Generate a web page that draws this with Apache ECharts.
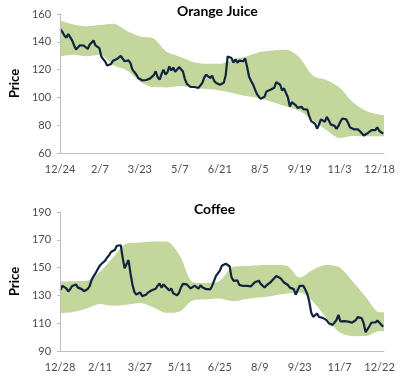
<!DOCTYPE html>
<html><head><meta charset="utf-8">
<script src="https://cdn.jsdelivr.net/npm/echarts@6/dist/echarts.min.js"></script>
<style>html,body{margin:0;padding:0;background:#fff}#c{width:400px;height:378px}</style>
</head><body><div id="c"></div>
<script>
// ---- data ----
const ojXLabels = ['12/24','2/7','3/23','5/7','6/21','8/5','9/19','11/3','12/18'];
const cfXLabels = ['12/28','2/11','3/27','5/11','6/25','8/9','9/23','11/7','12/22'];
const ojYTicks = [60,80,100,120,140,160];
const cfYTicks = [90,110,130,150,170,190];
const tickDays = [0,45,90,135,180,225,270,315,360];

// price samples, one every ~2.19 days starting at day 0.5
const priceStart = 0.5, priceStep = 2.19;
const ojPrice = [149,147,144.5,143,145.5,145,141,137.5,134.5,135,
137.5,138.5,137.3,137.9,134.8,137.9,139.1,141,137.4,137.6,
135.5,129.5,127.4,125.8,123,122.5,124,126.3,127.2,127.6,
128,129.8,130.5,126,125.5,126.6,124.7,120,118.3,116.5,
113.9,113.2,112.3,111.2,112.5,112,113.5,113,116,118.8,
114.5,112.8,116.8,120,116.5,118,122.3,119.4,121.5,118.5,
120,121.8,122.3,118.7,113.2,109.8,108.4,107.5,106.5,107.5,
108.4,106.8,107,110.5,114.5,116.3,115,114,115.6,112,
110.5,109.1,109.1,109.8,110.5,116,129.5,129.1,128.3,125,
127.5,125,126.5,127.6,126,128,122,115,112,109.5,
106,102.5,100.5,99,99.4,100.5,104.3,103.5,105.5,104.5,
107,111,110.5,109.1,105,106.5,106.5,100,93.5,96.5,
95.5,94.5,92.5,92.5,93.3,91.5,90.3,91.2,86.3,82.9,
83.2,81,77.5,80.5,84.2,84,82.5,86,83.5,80.6,
80.4,79.5,77.3,79.5,82.5,84.8,85.8,84.2,81.6,78.3,
77.6,77,76.8,77.1,76.4,74.3,72.6,73.8,74.2,74.6,
76.5,77.5,76.4,78.5,76,76.5,73.9];
const cfPrice = [133.8,136.9,135.6,135,132.8,134.5,136.8,137.6,137.9,135.6,
136,134.5,133,132.6,134.6,136.7,141,143.7,145.8,148.4,
151,152.6,152.5,155,157.3,158.8,161.2,162.4,162.8,165.7,
165.7,166.1,157,149.5,150.3,155.4,146,138,132.5,130.6,
131,132.1,129.5,128.3,130.5,132,131,133.7,133.3,134.8,
137,138.5,135.5,137.9,136.4,137.6,133.5,135,131.5,132.1,
130,132,135.7,138.3,137.6,137.9,137.5,135,133.8,137,
135.8,134.8,137.3,135.8,136,134.5,134.7,134.3,136.8,138.2,
144,144.4,147.8,151.3,152.3,152.8,154,151,143,140.5,
140,140.8,137.6,136.5,136.8,136.6,136.8,137.2,136.5,137.8,
139.5,138.5,140.6,138.3,138.4,135.7,137.3,137.6,139.3,140.9,
142.2,144,143.6,142.5,141,139.3,139,137.5,135.6,134.5,
134.5,130.5,130,136.8,137.5,136.8,134,131,125.4,117.5,
114.6,115.5,117,114.5,115.5,113.8,114.5,112,110,109.8,
108.8,110,112.3,116,111.3,112.5,111.5,112,111.1,110.5,
110.4,111,112.3,114.5,114.2,113.5,109.8,103.5,104,108,
110.5,110.3,110.5,112,110.5,110,107.5];

// range band, one sample every 15 days
const bandDays = [0,15,30,45,60,75,90,105,120,135,150,165,180,195,210,225,240,255,270,285,300,315,330,345,360,365];
const ojHigh = [155.4,152.5,151.2,152,153,148,143.9,142.5,132.8,129.3,125.5,124.2,124.2,127.5,129.5,132.6,133.8,134.2,128.5,115.5,112.5,107,96.5,90.2,87.5,87.2];
const ojLow  = [129.5,130.7,129.6,130.6,123.2,119.6,111.5,107.4,107.2,108.2,107,106,105,103,101,99.3,96.5,93.4,90.2,83.5,76.5,70.8,72.3,72,72,72];
const cfHigh = [140,140.2,140.5,147,157.5,167.3,168,168.8,168.8,158.5,139.5,139,140.5,150.7,151.2,151.7,151.8,151.5,142.8,148.5,151.8,150,139.8,128.5,117.8,117.8];
const cfLow  = [117.2,118,120.5,123.8,122.5,123.2,124.5,121.5,117.5,118.5,126.5,127.2,127.8,125.8,127.5,128.5,129.8,131.3,132,125.5,114,103.5,100.7,100.8,104.4,104.4];

// ---- chart ----
const FONT = 'Lato';
const GREEN = '#c3d69b', NAVY = '#0f243e', AXIS = '#bfbfbf', LABEL = '#4d4d4d';

function pricePts(arr){ return arr.map((v,i)=>[priceStart + i*priceStep, v]); }
function bandPts(arr){ return arr.map((v,i)=>[bandDays[i], v]); }

function makeX(gi, labels){
  return {type:'value', gridIndex:gi, min:0, max:365, z:10,
    axisLine:{show:true, lineStyle:{color:AXIS, width:1}},
    axisTick:{show:false}, splitLine:{show:false},
    axisLabel:{customValues:tickDays, formatter:v=>labels[Math.round(v/45)],
      color:LABEL, fontSize:11, fontFamily:FONT, margin:11}};
}
function makeY(gi, ticks){
  return {type:'value', gridIndex:gi, min:ticks[0], max:ticks[ticks.length-1], z:10,
    name:'Price', nameLocation:'middle', nameGap:36, nameRotate:90,
    nameTextStyle:{fontFamily:FONT, fontWeight:'bold', fontSize:13, color:'#000'},
    axisLine:{show:true, lineStyle:{color:AXIS, width:1}},
    axisTick:{show:true, length:3, customValues:ticks, lineStyle:{color:AXIS}},
    splitLine:{show:false},
    axisLabel:{customValues:ticks, color:LABEL, fontSize:11, fontFamily:FONT, margin:9}};
}
// band = area under the upper bound (green) with the area under the lower bound masked (white)
function bandSeries(idx, lo, hi){
  return [
    {type:'line', xAxisIndex:idx, yAxisIndex:idx, data:bandPts(hi),
     symbol:'none', smooth:0.3, lineStyle:{width:0, opacity:0},
     areaStyle:{color:GREEN, opacity:1, origin:'start'}, silent:true, z:1},
    {type:'line', xAxisIndex:idx, yAxisIndex:idx, data:bandPts(lo),
     symbol:'none', smooth:0.3, lineStyle:{width:0, opacity:0},
     areaStyle:{color:'#ffffff', opacity:1, origin:'start'}, silent:true, z:1}
  ];
}
function priceSeries(idx, arr){
  return {type:'line', xAxisIndex:idx, yAxisIndex:idx, data:pricePts(arr),
    symbol:'none', lineStyle:{color:NAVY, width:2.2}, z:3};
}

const chart = echarts.init(document.getElementById('c'), null, {renderer:'canvas'});
chart.setOption({
  animation:false,
  backgroundColor:'#fff',
  title:[
    {text:'Orange Juice', left:172, top:-1, textStyle:{fontFamily:FONT, fontWeight:'bold', fontSize:14, color:'#000'}},
    {text:'Coffee', left:189, top:197, textStyle:{fontFamily:FONT, fontWeight:'bold', fontSize:14, color:'#000'}}
  ],
  grid:[
    {left:51, top:14, width:333, height:139},
    {left:51, top:212, width:333, height:139}
  ],
  xAxis:[makeX(0, ojXLabels), makeX(1, cfXLabels)],
  yAxis:[makeY(0, ojYTicks), makeY(1, cfYTicks)],
  series:[
    ...bandSeries(0, ojLow, ojHigh),
    priceSeries(0, ojPrice),
    ...bandSeries(1, cfLow, cfHigh),
    priceSeries(1, cfPrice)
  ]
});
</script>
</body></html>
